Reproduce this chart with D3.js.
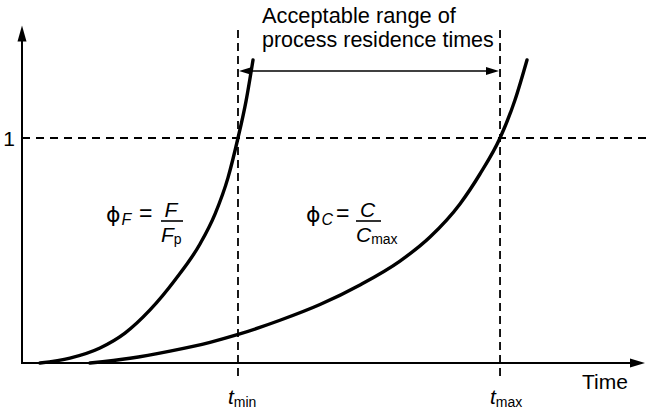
<!DOCTYPE html>
<html>
<head>
<meta charset="utf-8">
<script src="https://cdn.jsdelivr.net/npm/d3@7/dist/d3.min.js"></script>
<style>
  html, body { margin: 0; padding: 0; background: #fff; }
  svg { display: block; }
  text { font-family: "Liberation Sans", Arial, Helvetica, sans-serif; fill: #000; }
</style>
</head>
<body>
<svg id="chart" width="647" height="413"></svg>
<script>
// Dimensionless time axis and normalised response axis
const timeDomain = [0, 100];
const phiDomain = [0, 1.5];
const phiTicks = [1];

// Residence-time limits
const tMin = 34.67;
const tMax = 76.73;

// phi_F = F / F_p rising with time
const phiF_t = [2.89, 7.70, 12.52, 16.53, 20.55, 24.56, 28.57, 30.98, 33.07, 34.67, 35.96, 37.08];
const phiF_v = [0, 0.022, 0.067, 0.133, 0.236, 0.369, 0.529, 0.662, 0.824, 1.0, 1.164, 1.347];

// phi_C = C / C_max rising with time
const phiC_t = [10.91, 17.34, 23.76, 30.18, 34.83, 41.41, 47.83, 54.25, 60.67, 65.49, 70.30, 73.51, 76.73, 79.13, 81.06];
const phiC_v = [0, 0.021, 0.053, 0.092, 0.128, 0.190, 0.260, 0.347, 0.453, 0.560, 0.707, 0.840, 1.0, 1.169, 1.347];

const svg = d3.select("#chart");
const x = d3.scaleLinear().domain(timeDomain).range([22, 645]);
const y = d3.scaleLinear().domain(phiDomain).range([363, 25.5]);

// Dashed reference line at phi = 1
phiTicks.forEach(v => {
  svg.append("line")
    .attr("x1", x(0)).attr("x2", 647)
    .attr("y1", y(v)).attr("y2", y(v))
    .attr("stroke", "#000").attr("stroke-width", 1.8)
    .attr("stroke-dasharray", "8,6");
});

// Dashed verticals at t_min and t_max
[tMin, tMax].forEach(t => {
  svg.append("line")
    .attr("x1", x(t)).attr("x2", x(t))
    .attr("y1", 30).attr("y2", 379)
    .attr("stroke", "#000").attr("stroke-width", 1.8)
    .attr("stroke-dasharray", "8,5");
});

// Axes
const yAxis = d3.axisLeft(y).tickValues(phiTicks).tickSize(0).tickSizeOuter(0).tickPadding(7).tickFormat(d3.format("d"));
const gy = svg.append("g").attr("transform", `translate(${x(0)},0)`).call(yAxis);
gy.select(".domain").attr("stroke-width", 2).attr("d", `M0,${y(0)}V${y(1.5) + 12}`);
gy.selectAll(".tick text").attr("font-size", 21).attr("font-family", "Liberation Sans, Arial, sans-serif").attr("dy", "0.36em");

const xAxis = d3.axisBottom(x).tickValues([]).tickSize(0).tickSizeOuter(0);
const gx = svg.append("g").attr("transform", `translate(0,${y(0)})`).call(xAxis);
gx.select(".domain").attr("stroke-width", 2).attr("d", `M${x(0) - 1},0H${x(100) - 12}`);

// Axis arrowheads
svg.append("path")
  .attr("d", `M${x(0)},${y(1.5)} L${x(0) - 4.5},${y(1.5) + 16} L${x(0) + 4.5},${y(1.5) + 16} Z`)
  .attr("fill", "#000");
svg.append("path")
  .attr("d", `M${x(100)},${y(0)} L${x(100) - 15},${y(0) - 4.5} L${x(100) - 15},${y(0) + 4.5} Z`)
  .attr("fill", "#000");

// Curves
const line = d3.line().x(d => x(d[0])).y(d => y(d[1])).curve(d3.curveMonotoneX);
const fPts = phiF_t.map((t, i) => [t, phiF_v[i]]);
const cPts = phiC_t.map((t, i) => [t, phiC_v[i]]);
[fPts, cPts].forEach(pts => {
  svg.append("path").datum(pts).attr("d", line)
    .attr("fill", "none").attr("stroke", "#000").attr("stroke-width", 3.4)
    .attr("stroke-linecap", "round");
});

// Double-headed arrow spanning the acceptable range
const ay = 71;
const xa = x(tMin) + 1, xb = x(tMax) - 1;
svg.append("line").attr("x1", xa + 6).attr("x2", xb - 6).attr("y1", ay).attr("y2", ay)
  .attr("stroke", "#000").attr("stroke-width", 1.5);
svg.append("path").attr("d", `M${xa},${ay} L${xa + 13},${ay - 4} L${xa + 13},${ay + 4} Z`).attr("fill", "#000");
svg.append("path").attr("d", `M${xb},${ay} L${xb - 13},${ay - 4} L${xb - 13},${ay + 4} Z`).attr("fill", "#000");

// Range caption
const cap = svg.append("text").attr("x", 262).attr("y", 23).attr("font-size", 21.8);
cap.append("tspan").attr("x", 262).attr("y", 23).text("Acceptable range of");
cap.append("tspan").attr("x", 262).attr("y", 47).attr("font-size", 21.5).text("process residence times");

// Axis title
svg.append("text").attr("x", 582).attr("y", 389).attr("font-size", 21).text("Time");

// t_min / t_max labels
[[tMin, "min"], [tMax, "max"]].forEach(([t, sub]) => {
  const tx = svg.append("text").attr("x", x(t) - 10).attr("y", 404).attr("font-size", 21);
  tx.append("tspan").attr("font-style", "italic").text("t");
  tx.append("tspan").attr("font-size", 14).attr("dy", 3).text(sub);
});

// Fraction labels: phi symbol, "=", and a stacked fraction
function phiLabel(px, py, sym, sub, eqX, fx, fw) {
  const g = svg.append("g");
  const t = g.append("text").attr("x", px).attr("y", py).attr("font-size", 21);
  t.append("tspan").attr("font-family", "DejaVu Sans, sans-serif").attr("font-size", 22).text("\u03D5");
  t.append("tspan").attr("font-style", "italic").attr("font-size", 16).attr("dy", 3).attr("dx", 1).text(sym);
  g.append("text").attr("x", eqX).attr("y", py - 1).attr("font-size", 23).text("=");
  g.append("text").attr("x", fx + fw / 2 - 1).attr("y", py - 5).attr("text-anchor", "middle")
    .attr("font-size", 21).attr("font-style", "italic").text(sym);
  g.append("line").attr("x1", fx).attr("x2", fx + fw).attr("y1", py - 1).attr("y2", py - 1)
    .attr("stroke", "#000").attr("stroke-width", 1.6);
  const den = g.append("text").attr("x", fx).attr("y", py + 20).attr("font-size", 21);
  den.append("tspan").attr("font-style", "italic").text(sym);
  den.append("tspan").attr("font-size", 14).attr("dy", 2).text(sub);
}
phiLabel(106, 222, "F", "p", 139, 161, 22);
phiLabel(306, 222, "C", "max", 336, 356, 25);
</script>
</body>
</html>
